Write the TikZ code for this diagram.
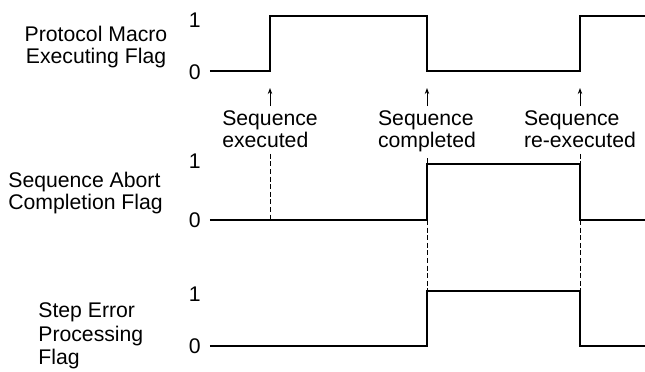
\documentclass[tikz,border=0pt]{standalone}
\usepackage{fontspec}
\setmainfont{Liberation Sans}
\usetikzlibrary{arrows.meta, positioning}
\tikzstyle{wave}  = [line width=0.6pt, line join=miter]
\tikzstyle{guide} = [line width=0.45pt, dash pattern=on 2.5pt off 1.3pt]

\begin{document}
\begin{tikzpicture}[
  x=0.5pt, y=-0.5pt,
  flag label/.style={inner sep=0pt, font=\fontsize{10.6}{11}\selectfont},
  level/.style={anchor=east, inner sep=0pt, font=\fontsize{10.6}{11}\selectfont},
  event label/.style={anchor=north, align=left, inner sep=0pt, font=\fontsize{10.6}{11}\selectfont},
  trigger/.style={-{Stealth[length=3pt, width=2.2pt]}, line width=0.45pt, shorten <=2pt}
]
  \useasboundingbox (0,0) rectangle (645,371);

  % Signal names
  \node[flag label, align=center] (pmflag) at (96,47) {Protocol Macro\\Executing Flag};
  \node[flag label, align=left, anchor=west] (abortflag) at (8,193) {Sequence Abort\\Completion Flag};
  \node[flag label, align=left, anchor=west, font=\fontsize{10.6}{11.7}\selectfont] (errflag) at (38,336) {Step Error\\Processing\\Flag};

  % Levels
  \node[level] (pmhi)  at (201,20)  {1};
  \node[level] (pmlo)  at (201,72)  {0};
  \node[level] (abhi)  at (201,161) {1};
  \node[level] (ablo)  at (201,220) {0};
  \node[level] (erhi)  at (201,294) {1};
  \node[level] (erlo)  at (201,346) {0};

  % Waveforms
  \draw[wave] (210,71) -- (270,71) -- (270,16) -- (427,16) -- (427,71) -- (580,71) -- (580,16) -- (645,16);
  \draw[wave] (210,220) coordinate (ab0) -- (427,220) coordinate (abrise) -- (427,164) coordinate (abtop1)
    -- (580,164) coordinate (abtop2) -- (580,220) coordinate (abfall) -- (645,220);
  \draw[wave] (210,346) -- (427,346) -- (427,291) coordinate (ertop1) -- (580,291) coordinate (ertop2) -- (580,346) -- (645,346);

  % Events
  \coordinate (tipexec)   at (270,88);
  \coordinate (tipcomp)   at (427,88);
  \coordinate (tipreexec) at (580,88);
  \coordinate (abexec)    at (270,220);

  \node[event label] (lblexec)   at (270,110) {Sequence\\executed};
  \node[event label] (lblcomp)   at (427,110) {Sequence\\completed};
  \node[event label] (lblreexec) at (580,110) {Sequence\\re-executed};

  \draw[trigger] (lblexec.north) -- (tipexec);
  \draw[trigger] (lblcomp.north) -- (tipcomp);
  \draw[trigger] (lblreexec.north) -- (tipreexec);

  \draw[guide, shorten <=3pt] (lblexec.south) -- (abexec);
  \draw[guide, shorten <=3pt] (lblcomp.south) -- (abtop1);
  \draw[guide, shorten <=3pt] (lblreexec.south) -- (abtop2);
  \draw[guide] (abrise) -- (ertop1);
  \draw[guide] (abfall) -- (ertop2);

\end{tikzpicture}
\end{document}
